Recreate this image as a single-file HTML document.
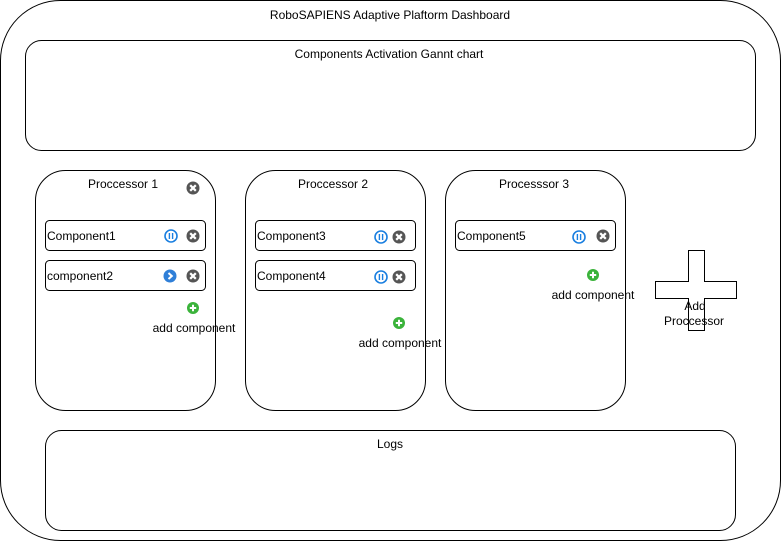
<!DOCTYPE html>
<html><head><meta charset="utf-8"><style>
html,body{margin:0;padding:0;background:#fff;}
svg{display:block;font-family:"Liberation Sans",Arial,sans-serif;}
text{font-size:12px;fill:#000;}
</style></head><body>
<svg width="781" height="541" viewBox="0 0 781 541" xmlns="http://www.w3.org/2000/svg">
<defs>
<g id="x"><circle r="6.5" fill="#555"/><path d="M-2.8,-2.8L2.8,2.8M2.8,-2.8L-2.8,2.8" stroke="#fff" stroke-width="2.2"/></g>
<g id="p"><circle r="6" fill="#fff" stroke="#1a7fe0" stroke-width="1.6"/><path d="M-1.6,-3V3M1.6,-3V3" stroke="#1a7fe0" stroke-width="1.4"/></g>
<g id="pl"><circle r="6.5" fill="#2f7fd8"/><path d="M-1.5,-3L1.8,0L-1.5,3" fill="none" stroke="#fff" stroke-width="2"/></g>
<g id="g"><circle r="6" fill="#3bb33b"/><path d="M-3.2,0H3.2M0,-3.2V3.2" stroke="#fff" stroke-width="2"/></g>
</defs>
<g fill="#fff" stroke="#000" stroke-width="1">
<rect x="0.5" y="0.5" width="780" height="540" rx="60"/>
<rect x="25.5" y="40.5" width="730" height="110" rx="16"/>
<rect x="35.5" y="170.5" width="180" height="240" rx="30"/>
<rect x="245.5" y="170.5" width="180" height="240" rx="30"/>
<rect x="445.5" y="170.5" width="180" height="240" rx="30"/>
<rect x="45.5" y="430.5" width="690" height="100" rx="16"/>
<rect x="45.5" y="220.5" width="160" height="30" rx="4"/>
<rect x="45.5" y="260.5" width="160" height="30" rx="4"/>
<rect x="255.5" y="220.5" width="160" height="30" rx="4"/>
<rect x="255.5" y="260.5" width="160" height="30" rx="4"/>
<rect x="455.5" y="220.5" width="160" height="30" rx="4"/>
<path d="M688.5,250.5H704.5V281.5H736.5V298.5H704.5V330.5H688.5V298.5H655.5V281.5H688.5Z"/>
</g>
<g text-anchor="middle">
<text x="390" y="19">RoboSAPIENS Adaptive Plaftorm Dashboard</text>
<text x="389" y="58">Components Activation Gannt chart</text>
<text x="123" y="188">Proccessor 1</text>
<text x="333" y="188">Proccessor 2</text>
<text x="534" y="188">Processsor 3</text>
<text x="390" y="448">Logs</text>
<text x="194" y="332">add component</text>
<text x="400" y="347">add component</text>
<text x="593" y="299">add component</text>
<text x="695" y="310">Add</text>
<text x="694" y="325">Proccessor</text>
</g>
<text x="47" y="240">Component1</text>
<text x="47" y="280">component2</text>
<text x="257" y="240">Component3</text>
<text x="257" y="280">Component4</text>
<text x="457" y="240">Component5</text>
<use href="#x" x="193" y="188"/>
<use href="#p" x="171" y="236"/><use href="#x" x="193" y="236"/>
<use href="#pl" x="170" y="276"/><use href="#x" x="193" y="276"/>
<use href="#p" x="381" y="237"/><use href="#x" x="399" y="237"/>
<use href="#p" x="381" y="277"/><use href="#x" x="399" y="277"/>
<use href="#p" x="579" y="237"/><use href="#x" x="603" y="236"/>
<use href="#g" x="193" y="308"/><use href="#g" x="399" y="323"/><use href="#g" x="593" y="275"/>
</svg>
</body></html>
